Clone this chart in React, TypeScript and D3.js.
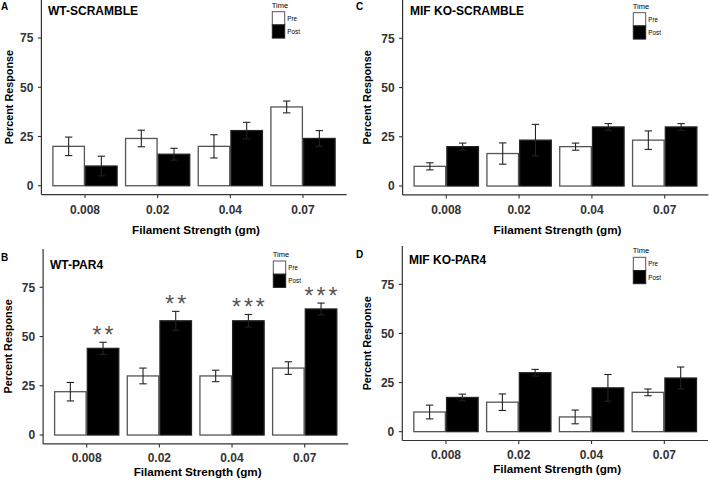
import React from "react";
import * as d3 from "d3";

const categories = ["0.008", "0.02", "0.04", "0.07"];
const yTicks = [0, 25, 50, 75];

const wtScramblePre = [20, 24, 20, 40];
const wtScramblePreErr = [4.7, 4.2, 5.9, 3.0];
const wtScramblePost = [10, 16, 28, 24];
const wtScramblePostErr = [5.0, 3.0, 4.2, 4.0];

const mifScramblePre = [10, 16.5, 20, 23.3];
const mifScramblePreErr = [1.8, 5.4, 1.8, 4.7];
const mifScramblePost = [20, 23.3, 30, 30];
const mifScramblePostErr = [1.8, 8.0, 1.7, 1.7];

const wtPar4Pre = [22, 30, 30, 34];
const wtPar4PreErr = [4.7, 4.0, 2.9, 3.2];
const wtPar4Post = [44, 58, 58, 64];
const wtPar4PostErr = [3.1, 4.8, 3.2, 3.0];
const wtPar4Sig = ["**", "**", "***", "***"];

const mifPar4Pre = [10, 15, 7.5, 20];
const mifPar4PreErr = [3.5, 4.2, 3.5, 1.7];
const mifPar4Post = [17.4, 30, 22.3, 27.3];
const mifPar4PostErr = [1.7, 1.7, 6.8, 5.6];

const timeLevels = ["Pre", "Post"];

const FONT = "'Liberation Sans', Arial, Helvetica, sans-serif";

type Layout = {
  left: number; right: number; top: number; bottom: number;
  labelX: number; labelY: number;
  titleX: number; titleY: number;
  legX: number; legY: number;
  xTickY: number; xTitleY: number; yTitleX: number;
};

type PanelProps = {
  label: string; title: string;
  pre: number[]; preErr: number[]; post: number[]; postErr: number[];
  sig?: string[]; L: Layout;
};

function Panel({ label, title, pre, preErr, post, postErr, sig, L }: PanelProps) {
  const x = d3.scaleBand<string>().domain(categories).range([L.left, L.right]).paddingInner(0.1).paddingOuter(0.15);
  const xi = d3.scaleBand<string>().domain(timeLevels).range([0, x.bandwidth()]).padding(0);
  const y = d3.scaleLinear().domain([-4.5, 94.5]).range([L.bottom, L.top]);
  const axisColor = "#333";
  const capW = 3.7;
  const bars: any[] = [];
  categories.forEach((c, i) => {
    const vals = [pre[i], post[i]];
    const errs = [preErr[i], postErr[i]];
    timeLevels.forEach((t, j) => {
      const bx = (x(c) as number) + (xi(t) as number);
      const bw = xi.bandwidth();
      bars.push({ c, t, j, bx, bw, v: vals[j], e: errs[j] });
    });
  });
  return (
    <g>
      <text x={L.labelX} y={L.labelY} fontFamily={FONT} fontWeight="bold" fontSize={10} fill="#000">{label}</text>
      {/* axes */}
      <line x1={L.left} x2={L.left} y1={L.top} y2={L.bottom} stroke={axisColor} strokeWidth={1.2} />
      <line x1={L.left} x2={L.right} y1={L.bottom} y2={L.bottom} stroke={axisColor} strokeWidth={1.2} />
      {yTicks.map((t) => (
        <g key={"y" + t}>
          <line x1={L.left - 3.5} x2={L.left} y1={y(t)} y2={y(t)} stroke={axisColor} strokeWidth={1.1} />
          <text x={L.left - 8} y={y(t) + 4.3} textAnchor="end" fontFamily={FONT} fontWeight="bold" fontSize={12} fill="#333">{t}</text>
        </g>
      ))}
      {categories.map((c) => {
        const cx = (x(c) as number) + x.bandwidth() / 2;
        return (
          <g key={"x" + c}>
            <line x1={cx} x2={cx} y1={L.bottom} y2={L.bottom + 3.5} stroke={axisColor} strokeWidth={1.1} />
            <text x={cx} y={L.xTickY} textAnchor="middle" fontFamily={FONT} fontWeight="bold" fontSize={12} fill="#333">{c}</text>
          </g>
        );
      })}
      {/* bars */}
      {bars.map((b) => (
        <rect key={"b" + b.c + b.t} x={b.bx + 0.6} y={y(b.v)} width={b.bw - 1.2} height={y(0) - y(b.v)}
          fill={b.j === 0 ? "#fff" : "#000"} stroke={b.j === 0 ? "#555" : "#222"} strokeWidth={1.3} />
      ))}
      {/* error bars */}
      {bars.map((b) => {
        const cx = b.bx + b.bw / 2;
        return (
          <g key={"e" + b.c + b.t} stroke="#222" strokeWidth={1.1}>
            <line x1={cx} x2={cx} y1={y(b.v - b.e)} y2={y(b.v + b.e)} />
            <line x1={cx - capW} x2={cx + capW} y1={y(b.v + b.e)} y2={y(b.v + b.e)} />
            <line x1={cx - capW} x2={cx + capW} y1={y(b.v - b.e)} y2={y(b.v - b.e)} />
          </g>
        );
      })}
      {sig && bars.filter((b) => b.j === 1).map((b, i) => (
        <text key={"s" + i} x={b.bx + b.bw / 2 + 1.5} y={y(b.v + b.e) - 12 + 13} textAnchor="middle" fontFamily={FONT}
          fontSize={23} letterSpacing={3} fill="#555">{sig[i]}</text>
      ))}
      {/* title */}
      <text x={L.titleX} y={L.titleY} fontFamily={FONT} fontWeight="bold" fontSize={12} fill="#000">{title}</text>
      {/* axis titles */}
      <text transform={`translate(${L.yTitleX},${(L.top + L.bottom) / 2}) rotate(-90)`} textAnchor="middle"
        fontFamily={FONT} fontWeight="bold" fontSize={10.8} fill="#000">Percent Response</text>
      <text x={(L.left + L.right) / 2 + 2} y={L.xTitleY} textAnchor="middle" fontFamily={FONT} fontWeight="bold"
        fontSize={11.7} fill="#000">Filament Strength (gm)</text>
      {/* legend */}
      <text x={L.legX - 0.5} y={L.legY - 4} fontFamily={FONT} fontSize={7.5} fill="#000">Time</text>
      {timeLevels.map((t, j) => (
        <g key={"l" + t}>
          <rect x={L.legX} y={L.legY + j * 13.2} width={12.4} height={13.2} fill={j === 0 ? "#fff" : "#000"}
            stroke={j === 0 ? "#555" : "#222"} strokeWidth={1} />
          <text x={L.legX + 15} y={L.legY + j * 13.2 + 9} fontFamily={FONT} fontSize={6.3} fill="#000">{t}</text>
        </g>
      ))}
    </g>
  );
}

const layoutA: Layout = { left: 41.4, right: 346.6, top: -0.4, bottom: 194.6, labelX: 1, labelY: 10,
  titleX: 48, titleY: 15.3, legX: 272.3, legY: 11.7, xTickY: 214, xTitleY: 234, yTitleX: 12.5 };
const layoutB: Layout = { left: 43.1, right: 348.3, top: 248.9, bottom: 443.9, labelX: 1, labelY: 260.7,
  titleX: 50, titleY: 268.7, legX: 273.3, legY: 261, xTickY: 461.5, xTitleY: 475.5, yTitleX: 12 };
const layoutC: Layout = { left: 402.6, right: 708.4, top: -0.1, bottom: 194.9, labelX: 356, labelY: 10,
  titleX: 410, titleY: 15, legX: 633.3, legY: 12.7, xTickY: 214, xTitleY: 234, yTitleX: 370.5 };
const layoutD: Layout = { left: 402.3, right: 708, top: 246, bottom: 440.5, labelX: 356, labelY: 258.3,
  titleX: 409, titleY: 264, legX: 633.3, legY: 257.3, xTickY: 459, xTitleY: 473, yTitleX: 370.5 };

export default function App() {
  return (
    <svg width={709} height={482} style={{ position: "fixed", left: 0, top: 0, background: "#fff" }}>
      <rect width={709} height={482} fill="#fff" />
      <Panel label="A" title="WT-SCRAMBLE" pre={wtScramblePre} preErr={wtScramblePreErr} post={wtScramblePost}
        postErr={wtScramblePostErr} L={layoutA} />
      <Panel label="B" title="WT-PAR4" pre={wtPar4Pre} preErr={wtPar4PreErr} post={wtPar4Post}
        postErr={wtPar4PostErr} sig={wtPar4Sig} L={layoutB} />
      <Panel label="C" title="MIF KO-SCRAMBLE" pre={mifScramblePre} preErr={mifScramblePreErr} post={mifScramblePost}
        postErr={mifScramblePostErr} L={layoutC} />
      <Panel label="D" title="MIF KO-PAR4" pre={mifPar4Pre} preErr={mifPar4PreErr} post={mifPar4Post}
        postErr={mifPar4PostErr} L={layoutD} />
    </svg>
  );
}
